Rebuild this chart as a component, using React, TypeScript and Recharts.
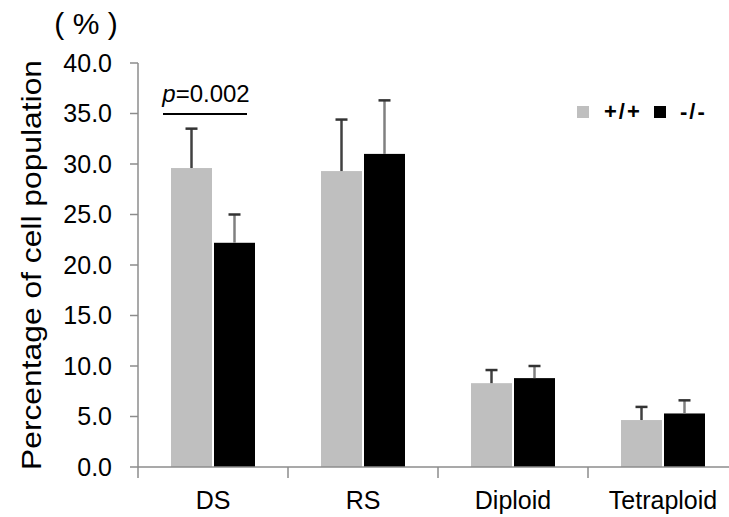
import { BarChart, Bar, XAxis, YAxis } from 'recharts';

const categories = ['DS', 'RS', 'Diploid', 'Tetraploid'];
const wildType = [29.6, 29.3, 8.3, 4.65];
const wildTypeErr = [3.9, 5.1, 1.3, 1.3];
const knockout = [22.2, 31.0, 8.8, 5.3];
const knockoutErr = [2.8, 5.3, 1.2, 1.3];
const yTicks = [0, 5, 10, 15, 20, 25, 30, 35, 40];

const data = categories.map((name, i) => ({
  name,
  wt: wildType[i],
  wtErr: wildTypeErr[i],
  ko: knockout[i],
  koErr: knockoutErr[i],
}));

const FONT = '"Liberation Sans", Arial, sans-serif';
const AXIS = '#8c8c8c';
const PLOT_BOTTOM = 467;
const BAND = 150;

// bar + upward-only error whisker, scaled from the bar's own pixel height
function barWithError(valueKey: string, errKey: string, lineColor: string) {
  return (props: any) => {
    const { x, y, width, height, fill, payload } = props;
    const pxPerUnit = height / payload[valueKey];
    const top = y - payload[errKey] * pxPerUnit;
    const cx = x + width / 2;
    return (
      <g>
        <rect x={x} y={y} width={width} height={height} fill={fill} />
        <line x1={cx} y1={y} x2={cx} y2={top} stroke={lineColor} strokeWidth={2.5} />
        <line x1={cx - 6} y1={top} x2={cx + 6} y2={top} stroke="#333" strokeWidth={2.5} />
      </g>
    );
  };
}

function CategoryTick({ x, payload }: any) {
  return (
    <g>
      <line x1={x - BAND / 2} y1={PLOT_BOTTOM} x2={x - BAND / 2} y2={478} stroke={AXIS} strokeWidth={1.5} />
      <text x={x} y={509} textAnchor="middle" fontSize={25} fontFamily={FONT} fill="#000">
        {payload.value}
      </text>
    </g>
  );
}

export default function App() {
  return (
    <div
      style={{
        position: 'fixed',
        top: 0,
        left: 0,
        width: 729,
        height: 517,
        overflow: 'hidden',
        background: '#fff',
      }}
    >
      <BarChart
        width={745}
        height={517}
        data={data}
        margin={{ top: 63, right: 7, bottom: 0, left: 0 }}
        barCategoryGap={33}
        barGap={2}
      >
        <XAxis
          dataKey="name"
          height={50}
          axisLine={{ stroke: AXIS, strokeWidth: 1.5 }}
          tickLine={false}
          tick={<CategoryTick />}
          interval={0}
        />
        <YAxis
          width={138}
          domain={[0, 40]}
          ticks={yTicks}
          interval={0}
          tickFormatter={(v) => Number(v).toFixed(1)}
          axisLine={{ stroke: AXIS, strokeWidth: 1.5 }}
          tickLine={{ stroke: AXIS, strokeWidth: 1.5 }}
          tickSize={8}
          tickMargin={18}
          tick={{ fontSize: 25, fill: '#000', fontFamily: FONT }}
        />
        <Bar dataKey="wt" fill="#bfbfbf" isAnimationActive={false} shape={barWithError('wt', 'wtErr', '#404040')} />
        <Bar dataKey="ko" fill="#000000" isAnimationActive={false} shape={barWithError('ko', 'koErr', '#808080')} />
      </BarChart>

      <svg
        width={729}
        height={517}
        style={{ position: 'absolute', top: 0, left: 0, pointerEvents: 'none' }}
        fontFamily={FONT}
      >
        <text x={86} y={34} textAnchor="middle" fontSize={30} fill="#000">
          ( % )
        </text>
        <text
          transform="translate(31,265) rotate(-90)"
          textAnchor="middle"
          dominantBaseline="central"
          fontSize={28}
          textLength={410}
          lengthAdjust="spacingAndGlyphs"
          fill="#000"
        >
          Percentage of cell population
        </text>
        <text x={206} y={102} textAnchor="middle" fontSize={24} fill="#000">
          <tspan fontStyle="italic">p</tspan>=0.002
        </text>
        <line x1={163} y1={114} x2={247} y2={114} stroke="#000" strokeWidth={2} />

        <rect x={577} y={106} width={12} height={12} fill="#bfbfbf" />
        <text x={604} y={119} fontSize={22} fontWeight="bold" letterSpacing={2} fill="#000">
          +/+
        </text>
        <rect x={654} y={106} width={12} height={12} fill="#000" />
        <text x={680} y={119} fontSize={22} fontWeight="bold" letterSpacing={2} fill="#000">
          -/-
        </text>
      </svg>
    </div>
  );
}
